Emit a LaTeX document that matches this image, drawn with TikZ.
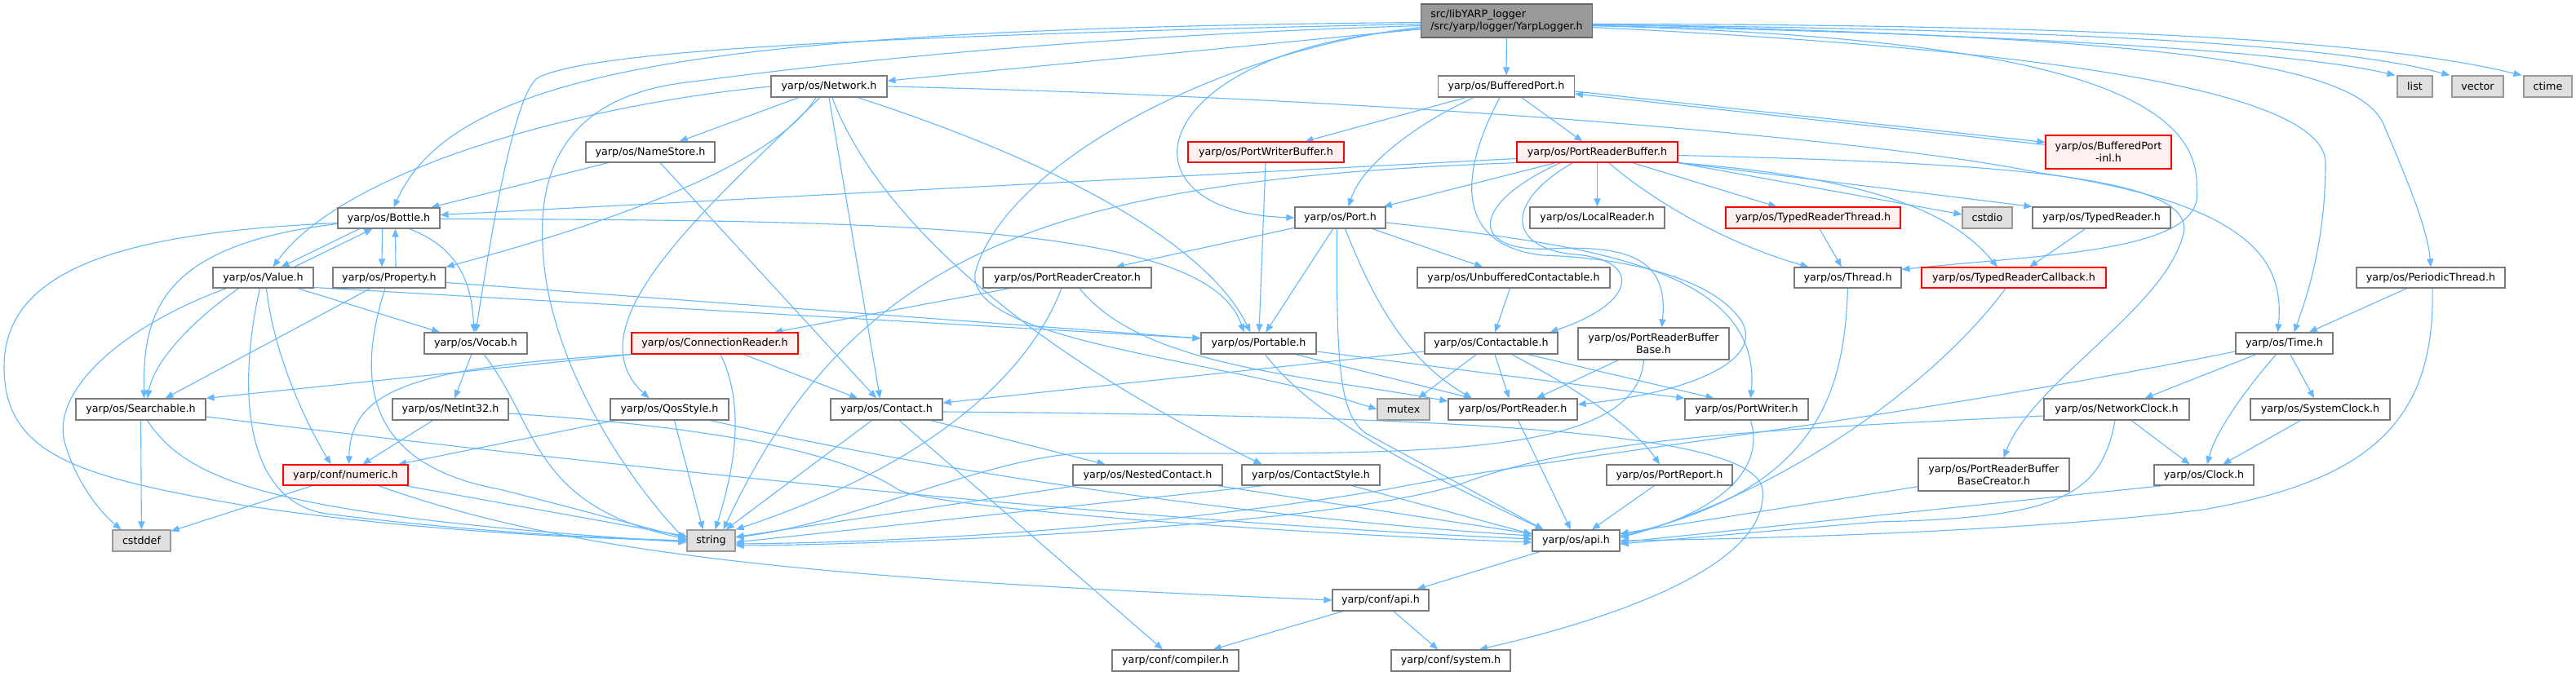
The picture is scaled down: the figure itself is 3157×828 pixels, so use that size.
\documentclass[tikz,border=0pt]{standalone}
\usepackage{fontspec}
\setmainfont{DejaVu Sans}
\usetikzlibrary{arrows.meta}
\definecolor{edgeblue}{HTML}{63B8FF}
\definecolor{nodeborder}{HTML}{7A7A7A}
\definecolor{redfill}{HTML}{FFF0F0}
\definecolor{redborder}{HTML}{FF0000}
\definecolor{sysfill}{HTML}{E0E0E0}
\definecolor{sysborder}{HTML}{999999}
\definecolor{mainfill}{HTML}{999999}
\definecolor{mainborder}{HTML}{666666}
\pgfdeclarelayer{bg}
\pgfsetlayers{bg,main}
\newcommand\mknode[6]{\node[#1,minimum width=#4pt,minimum height=#5pt] (#2) at (#3) {#6};}
\begin{document}
\begin{tikzpicture}[x=1pt,y=-1pt,
 box/.style={draw=nodeborder, fill=white, line width=1.2pt, inner sep=0pt, align=center, font=\fontsize{12.7}{15}\selectfont},
 redbox/.style={box, draw=redborder, fill=redfill},
 sysbox/.style={box, draw=sysborder, fill=sysfill},
 mainbox/.style={box, draw=mainborder, fill=mainfill, align=left},
 edge/.style={draw=edgeblue, line width=1.1pt, -{Triangle[length=10pt,width=8pt]}}]
\useasboundingbox (0,0) rectangle (3157,828);

\mknode{mainbox}{L}{1846.5,25.5}{210}{41}{src/libYARP\_logger\\/src/yarp/logger/YarpLogger.h}
\mknode{box}{BP}{1846,106}{167}{26}{yarp/os/BufferedPort.h}
\mknode{box}{Net}{1016,106}{142}{26}{yarp/os/Network.h}
\mknode{box}{NS}{797,186.5}{158}{25}{yarp/os/NameStore.h}
\mknode{redbox}{PWB}{1551.5,186.5}{191}{25}{yarp/os/PortWriterBuffer.h}
\mknode{redbox}{PRB}{1957.5,186.5}{197}{25}{yarp/os/PortReaderBuffer.h}
\mknode{redbox}{inl}{2584,186.5}{154}{41}{yarp/os/BufferedPort\\-inl.h}
\mknode{box}{Bottle}{476.5,267.5}{125}{25}{yarp/os/Bottle.h}
\mknode{box}{Port}{1642.5,267}{111}{26}{yarp/os/Port.h}
\mknode{box}{LR}{1957.5,267}{165}{26}{yarp/os/LocalReader.h}
\mknode{redbox}{TRT}{2222,267}{214}{26}{yarp/os/TypedReaderThread.h}
\mknode{sysbox}{cstdio}{2435.5,267}{61}{26}{cstdio}
\mknode{box}{TR}{2575.5,267}{169}{26}{yarp/os/TypedReader.h}
\mknode{box}{Value}{322.5,340.5}{123}{25}{yarp/os/Value.h}
\mknode{box}{Prop}{477,340.5}{138}{25}{yarp/os/Property.h}
\mknode{box}{PRC}{1308,340.5}{206}{25}{yarp/os/PortReaderCreator.h}
\mknode{box}{UC}{1855,340.5}{236}{25}{yarp/os/UnbufferedContactable.h}
\mknode{box}{Thread}{2264.5,340.5}{131}{25}{yarp/os/Thread.h}
\mknode{redbox}{TRC}{2468,340.5}{226}{25}{yarp/os/TypedReaderCallback.h}
\mknode{box}{PT}{2979,340.5}{182}{25}{yarp/os/PeriodicThread.h}
\mknode{box}{Vocab}{583,421}{126}{26}{yarp/os/Vocab.h}
\mknode{redbox}{CR}{876,421}{204}{26}{yarp/os/ConnectionReader.h}
\mknode{box}{Portable}{1542.5,421}{141}{26}{yarp/os/Portable.h}
\mknode{box}{Cble}{1827.5,421}{163}{26}{yarp/os/Contactable.h}
\mknode{box}{PRBB}{2026.5,421.5}{185}{39}{yarp/os/PortReaderBuffer\\Base.h}
\mknode{box}{Time}{2799.5,421}{119}{26}{yarp/os/Time.h}
\mknode{box}{Search}{172.5,502}{159}{26}{yarp/os/Searchable.h}
\mknode{box}{NI}{552,502}{142}{26}{yarp/os/NetInt32.h}
\mknode{box}{Qos}{820.5,502}{145}{26}{yarp/os/QosStyle.h}
\mknode{box}{Contact}{1086.5,502}{137}{26}{yarp/os/Contact.h}
\mknode{sysbox}{mutex}{1720,502}{64}{26}{mutex}
\mknode{box}{PR}{1854,502}{158}{26}{yarp/os/PortReader.h}
\mknode{box}{PW}{2140.5,502}{151}{26}{yarp/os/PortWriter.h}
\mknode{box}{NC}{2594,502}{178}{26}{yarp/os/NetworkClock.h}
\mknode{box}{SC}{2843.5,502}{171}{26}{yarp/os/SystemClock.h}
\mknode{redbox}{num}{423.5,582.5}{153}{25}{yarp/conf/numeric.h}
\mknode{box}{NestC}{1406.5,582.5}{183}{25}{yarp/os/NestedContact.h}
\mknode{box}{CS}{1606.5,582.5}{169}{25}{yarp/os/ContactStyle.h}
\mknode{box}{PRep}{2046,582.5}{154}{25}{yarp/os/PortReport.h}
\mknode{box}{PRBBC}{2443.5,582}{185}{40}{yarp/os/PortReaderBuffer\\BaseCreator.h}
\mknode{box}{Clock}{2701,582.5}{122}{25}{yarp/os/Clock.h}
\mknode{sysbox}{cstddef}{173.5,663}{71}{26}{cstddef}
\mknode{sysbox}{string}{871.5,663}{59}{26}{string}
\mknode{box}{api}{1931.5,663}{107}{26}{yarp/os/api.h}
\mknode{box}{capi}{1692,736}{118}{26}{yarp/conf/api.h}
\mknode{box}{comp}{1440.5,810}{155}{26}{yarp/conf/compiler.h}
\mknode{box}{sys}{1778,810}{146}{26}{yarp/conf/system.h}
\mknode{sysbox}{list}{2959.5,106}{43}{26}{list}
\mknode{sysbox}{vector}{3036.5,106}{63}{26}{vector}
\mknode{sysbox}{ctime}{3122.5,106}{59}{26}{ctime}

\begin{pgfonlayer}{bg}
\fill[white] (0,0) rectangle (3157,828);
% YarpLogger
\draw[edge] (L) -- (BP);
\draw[edge] (L) -- (Net);
\draw[edge] ([yshift=-10pt]L.west) .. controls (1400,60) and (1360,260) .. (Port.west);
\draw[edge] ([yshift=-2pt]L.west) .. controls (900,35) and (560,80) .. ([xshift=6pt]Bottle.north);
\draw[edge] ([yshift=-4pt]L.west) .. controls (1000,45) and (720,65) .. (660,95) .. controls (630,110) and (600,300) .. (Vocab.north);
\draw[edge] ([yshift=-6pt]L.west) .. controls (1300,45) and (1000,80) .. (850,100) .. controls (700,115) and (660,200) .. (665,300) .. controls (670,450) and (780,600) .. (string.west);
\draw[edge] ([yshift=-8pt]L.west) .. controls (1500,60) and (1230,200) .. (1195,335) .. controls (1185,420) and (1500,440) .. (mutex.west);
\draw[edge] ([yshift=-6pt]L.east) .. controls (2450,45) and (2700,100) .. (2692,232) .. controls (2705,310) and (2500,312) .. ([yshift=10pt]Thread.east);
\draw[edge] ([yshift=-8pt]L.east) .. controls (2500,60) and (2850,110) .. (2850,200) .. controls (2850,300) and (2825,370) .. ([xshift=12pt]Time.north);
\draw[edge] ([yshift=-4pt]L.east) .. controls (2600,45) and (2880,70) .. (2920,150) .. controls (2950,220) and (2975,280) .. (PT.north);
\draw[edge] ([yshift=-6pt]L.east) .. controls (2400,40) and (2800,60) .. ([xshift=-2pt]list.north west);
\draw[edge] ([yshift=-5pt]L.east) .. controls (2450,35) and (2850,50) .. ([xshift=-2pt]vector.north west);
\draw[edge] ([yshift=-4pt]L.east) .. controls (2500,30) and (2900,45) .. ([xshift=-2pt]ctime.north west);
% BufferedPort
\draw[edge] (BP) -- (PWB);
\draw[edge] (BP) -- (PRB);
\draw[edge] ([xshift=-40pt]BP.south) .. controls (1740,150) and (1670,200) .. ([xshift=10pt]Port.north);
\draw[edge] ([xshift=-8pt]BP.south) .. controls (1790,210) and (1780,300) .. (1890,313) .. controls (1990,316) and (2100,340) .. (2135,395) .. controls (2160,440) and (2080,480) .. ([yshift=6pt]PR.east);
\draw[edge] ([yshift=-6pt]BP.east) -- ([yshift=12pt]inl.west);
\draw[edge] ([yshift=9pt]inl.west) -- ([yshift=-9pt]BP.east);
% PortReaderBuffer
\draw[edge] ([yshift=-8pt]PRB.west) -- ([yshift=4pt]Bottle.east);
\draw[edge] (PRB.south west) .. controls (1300,220) and (1050,300) .. ([xshift=15pt]string.north);
\draw[edge] (PRB) -- (Port);
\draw[edge] ([xshift=-30pt]PRB.south) .. controls (1840,250) and (1850,305) .. (1930,312) .. controls (2010,318) and (2010,370) .. ([xshift=72pt]Cble.north);
\draw[edge] ([xshift=-45pt]PRB.south) .. controls (1800,250) and (1800,310) .. (1900,305) .. controls (2000,300) and (2045,320) .. ([xshift=10pt]PRBB.north);
\draw[edge] (PRB) -- (LR);
\draw[edge] ([xshift=14pt]PRB.south) .. controls (2030,250) and (2120,300) .. ([xshift=-48pt]Thread.north);
\draw[edge] (PRB) -- (TRT);
\draw[edge] (PRB.south east) -- ([yshift=4pt]cstdio.west);
\draw[edge] (PRB.south east) -- (TR.north west);
\draw[edge] (PRB.south east) .. controls (2320,220) and (2400,270) .. ([xshift=-20pt]TRC.north);
\draw[edge] ([yshift=-4pt]PRB.east) .. controls (2450,200) and (2700,215) .. (2675,290) .. controls (2650,380) and (2490,470) .. ([xshift=12pt]PRBBC.north);
% Port
\draw[edge] ([yshift=-6pt]Port.east) .. controls (1950,300) and (2160,330) .. ([xshift=5pt]PW.north);
\draw[edge] (Port) -- (PRC);
\draw[edge] (Port) -- (Portable);
\draw[edge] ([xshift=-4pt]Port.south) .. controls (1638,440) and (1640,510) .. (1675,532) -- ([xshift=-40pt]api.north);
\draw[edge] ([xshift=6pt]Port.south) .. controls (1680,360) and (1720,440) .. ([xshift=-50pt]PR.north);
\draw[edge] (Port) -- (UC);
% Network
\draw[edge] (Net.west) .. controls (700,130) and (420,210) .. ([xshift=12pt]Value.north);
\draw[edge] (Net) -- (NS);
\draw[edge] ([xshift=-16pt]Net.south) .. controls (950,200) and (760,270) .. (Prop.north east);
\draw[edge] ([xshift=-11pt]Net.south) .. controls (860,260) and (700,400) .. ([xshift=-25pt]Qos.north);
\draw[edge] (Net.south) -- ([xshift=-8pt]Contact.north);
\draw[edge] ([xshift=4pt]Net.south) .. controls (1060,230) and (1200,400) .. ([xshift=-60pt]CS.north);
\draw[edge] ([xshift=35pt]Net.south) .. controls (1300,200) and (1480,300) .. ([xshift=-10pt]Portable.north);
\draw[edge] (Net.east) .. controls (1700,120) and (2300,170) .. (2500,212) .. controls (2760,250) and (2800,320) .. ([xshift=-8pt]Time.north);
% NameStore
\draw[edge] (NS) -- (Bottle);
\draw[edge] (NS) -- (Contact);
% Bottle
\draw[edge] ([xshift=-36pt]Bottle.south) -- ([xshift=22pt]Value.north);
\draw[edge] ([xshift=38pt]Value.north) -- ([xshift=-20pt]Bottle.south);
\draw[edge] ([xshift=-8pt]Bottle.south) -- ([xshift=-9pt]Prop.north);
\draw[edge] ([xshift=8pt]Prop.north) -- ([xshift=8pt]Bottle.south);
\draw[edge] ([xshift=25pt]Bottle.south) .. controls (565,305) and (578,350) .. ([xshift=-2pt]Vocab.north);
\draw[edge] ([yshift=-7pt]Bottle.west) .. controls (200,300) and (175,380) .. ([xshift=4pt]Search.north);
\draw[edge] ([yshift=-6pt]Bottle.west) .. controls (150,285) and (5,330) .. (5,450) .. controls (5,560) and (100,585) .. (300,620) .. controls (500,650) and (700,660) .. (string.west);
\draw[edge] ([yshift=-1pt]Bottle.east) .. controls (1100,270) and (1480,275) .. ([xshift=-18pt]Portable.north);
% Value
\draw[edge] (Value) -- (Vocab);
\draw[edge] ([xshift=-30pt]Value.south) .. controls (240,390) and (190,440) .. ([xshift=8pt]Search.north);
\draw[edge] ([xshift=-45pt]Value.south) .. controls (150,400) and (60,480) .. (80,545) .. controls (95,595) and (125,630) .. ([xshift=-25pt]cstddef.north);
\draw[edge] ([xshift=-4pt]Value.south) .. controls (290,480) and (300,615) .. (400,630) .. controls (600,655) and (750,660) .. (string.west);
\draw[edge] ([xshift=4pt]Value.south) .. controls (335,430) and (370,510) .. ([xshift=-18pt]num.north);
\draw[edge] ([yshift=-12pt]Value.east) -- ([yshift=6pt]Portable.west);
% Property
\draw[edge] ([yshift=-6pt]Prop.east) -- ([yshift=6pt]Portable.west);
\draw[edge] ([xshift=-23pt]Prop.south) -- ([xshift=30pt]Search.north);
\draw[edge] ([xshift=-5pt]Prop.south) .. controls (435,470) and (450,570) .. (612,600) .. controls (700,622) and (800,650) .. ([yshift=4pt]string.west);
% Vocab, NetInt32
\draw[edge] (Vocab) -- (NI);
\draw[edge] ([xshift=10pt]Vocab.south) .. controls (660,520) and (650,620) .. ([yshift=2pt]string.west);
\draw[edge] (NI) -- (num);
\draw[edge] ([yshift=-5pt]NI.east) .. controls (900,525) and (1040,560) .. (1100,600) .. controls (1150,625) and (1600,655) .. ([yshift=-2pt]api.west);
% numeric
\draw[edge] (num) -- (cstddef);
\draw[edge] (num) -- (string);
\draw[edge] ([xshift=40pt]num.south) .. controls (700,680) and (1000,710) .. (capi.west);
% Searchable
\draw[edge] (Search) -- (cstddef);
\draw[edge] ([xshift=8pt]Search.south) .. controls (230,590) and (330,632) .. ([yshift=-2pt]string.west);
\draw[edge] ([yshift=-9pt]Search.east) .. controls (800,578) and (1400,640) .. ([yshift=2pt]api.west);
% QosStyle
\draw[edge] (Qos) -- (num);
\draw[edge] ([xshift=6pt]Qos.south) -- ([xshift=-10pt]string.north);
\draw[edge] ([xshift=50pt]Qos.south) .. controls (1200,590) and (1600,640) .. ([yshift=6pt]api.west);
% ConnectionReader
\draw[edge] (CR.south west) -- (Search.north east);
\draw[edge] (CR.south west) .. controls (500,450) and (430,480) .. ([xshift=4pt]num.north);
\draw[edge] ([xshift=7pt]CR.south) .. controls (910,490) and (905,560) .. ([xshift=5pt]string.north);
\draw[edge] (CR) -- (Contact);
% PortReaderCreator
\draw[edge] (PRC) -- (CR);
\draw[edge] ([xshift=-7pt]PRC.south) .. controls (1260,460) and (1140,570) .. (string.north east);
\draw[edge] ([xshift=15pt]PRC.south) .. controls (1400,450) and (1600,460) .. ([yshift=10pt]PR.west);
% Portable
\draw[edge] ([xshift=45pt]Portable.south) -- ([xshift=-50pt]PR.north);
\draw[edge] ([yshift=-10pt]Portable.east) -- (PW.north west);
\draw[edge] ([xshift=8pt]Portable.south) .. controls (1600,500) and (1700,560) .. ([xshift=-40pt]api.north);
% PortWriterBuffer, Unbuffered
\draw[edge] (PWB) -- (Portable);
\draw[edge] (UC) -- (Cble);
% Contactable
\draw[edge] ([yshift=-10pt]Cble.west) -- ([yshift=8pt]Contact.east);
\draw[edge] (Cble) -- (mutex);
\draw[edge] (Cble) -- (PR);
\draw[edge] ([xshift=25pt]Cble.south) .. controls (1920,470) and (2000,520) .. ([xshift=-12pt]PRep.north);
\draw[edge] ([xshift=45pt]Cble.south) -- ([xshift=-40pt]PW.north);
% PortReaderBufferBase
\draw[edge] (PRBB) -- (PR);
\draw[edge] ([xshift=-12pt]PRBB.south) .. controls (2005,570) and (1700,555) .. (1320,556) .. controls (1200,565) and (1050,640) .. ([yshift=4pt]string.east);
% PortReader, PortWriter, PortReport
\draw[edge] (PR) -- (api);
\draw[edge] ([xshift=5pt]PW.south) .. controls (2165,580) and (2100,630) .. ([yshift=4pt]api.east);
\draw[edge] (PRep) -- (api);
% Contact
\draw[edge] (Contact) -- (string);
\draw[edge] (Contact) -- (comp);
\draw[edge] (Contact) -- (NestC);
\draw[edge] ([yshift=-3pt]Contact.east) .. controls (1800,510) and (2150,530) .. (2160,600) .. controls (2170,700) and (1950,765) .. ([xshift=35pt]sys.north);
\draw[edge] (NestC) -- (string);
\draw[edge] (NestC) -- (api);
\draw[edge] ([xshift=-58pt]CS.south) -- ([yshift=-2pt]string.east);
\draw[edge] ([xshift=50pt]CS.south) -- ([yshift=8pt]api.west);
% Threads
\draw[edge] (Thread.south) .. controls (2260,480) and (2230,600) .. ([yshift=6pt]api.east);
\draw[edge] (TRT) -- (Thread);
\draw[edge] (TR) -- (TRC);
\draw[edge] ([xshift=-10pt]TRC.south) .. controls (2380,460) and (2200,600) .. ([yshift=4pt]api.east);
\draw[edge] (PT) -- (Time);
\draw[edge] ([xshift=2pt]PT.south) .. controls (2985,520) and (2900,590) .. (2700,625) .. controls (2500,650) and (2200,660) .. (api.east);
% Time and clocks
\draw[edge] (Time) -- (NC);
\draw[edge] (Time) -- (SC);
\draw[edge] ([xshift=-10pt]Time.south) .. controls (2750,480) and (2715,530) .. ([xshift=4pt]Clock.north);
\draw[edge] ([yshift=-10pt]Time.west) .. controls (2300,520) and (1900,560) .. (1700,600) .. controls (1400,650) and (1100,665) .. ([yshift=-4pt]string.east);
\draw[edge] ([yshift=-8pt]NC.west) .. controls (2200,525) and (1950,535) .. (1800,590) .. controls (1650,645) and (1100,668) .. ([yshift=-6pt]string.east);
\draw[edge] (NC) -- (Clock);
\draw[edge] ([xshift=-2pt]NC.south) .. controls (2575,610) and (2520,635) .. (2300,640) -- ([yshift=-4pt]api.east);
\draw[edge] (SC) -- (Clock);
\draw[edge] ([xshift=-50pt]Clock.south) -- ([yshift=-2pt]api.east);
\draw[edge] (PRBBC) -- (api);
% api
\draw[edge] (api) -- (capi);
\draw[edge] (capi) -- (comp);
\draw[edge] (capi) -- (sys);
\end{pgfonlayer}
\end{tikzpicture}
\end{document}
